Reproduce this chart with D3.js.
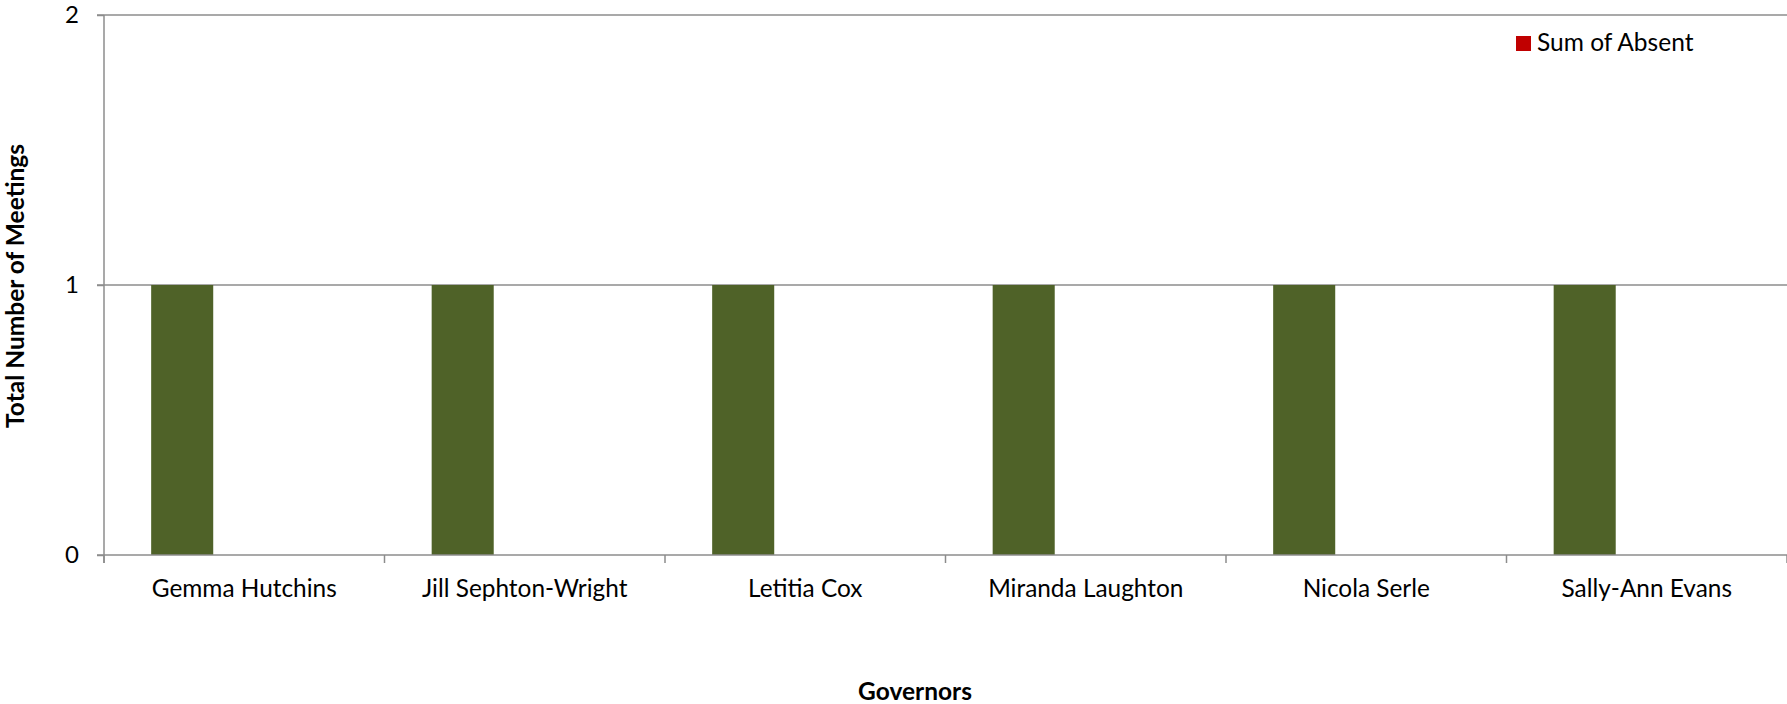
<!DOCTYPE html>
<html>
<head>
<meta charset="utf-8">
<script src="https://cdn.jsdelivr.net/npm/d3@7"></script>
<style>
  html, body { margin: 0; padding: 0; background: #fff; }
  svg { display: block; }
  text { font-family: Lato, "Open Sans", sans-serif; fill: #000; }
</style>
</head>
<body>
<svg id="chart" width="1787" height="704"></svg>
<script>
// ---- data ----
const categories = ["Gemma Hutchins", "Jill Sephton-Wright", "Letitia Cox", "Miranda Laughton", "Nicola Serle", "Sally-Ann Evans"];
const series1Values = [1, 1, 1, 1, 1, 1];
const series2Values = [0, 0, 0, 0, 0, 0];
const absentValues = [0, 0, 0, 0, 0, 0];
const yTicks = [0, 1, 2];
const legendLabel = "Sum of Absent";
const xTitle = "Governors";
const yTitle = "Total Number of Meetings";

// ---- layout ----
const svg = d3.select("#chart");
const plotLeft = 104, plotRight = 1787, plotTop = 15, plotBottom = 555;
const gridColor = "#8c8c8c";
const seriesColors = ["#4f6228", "#1f497d", "#c00000"];
const seriesKeys = ["s1", "s2", "absent"];

const rows = categories.map((c, i) => ({ cat: c, s1: series1Values[i], s2: series2Values[i], absent: absentValues[i] }));

const x = d3.scaleBand().domain(categories).range([plotLeft, plotRight]).paddingInner(0).paddingOuter(0);
const inner = d3.scaleBand().domain(seriesKeys).range([0, x.bandwidth()]).paddingInner(0).paddingOuter(0.76);
const y = d3.scaleLinear().domain([0, 2]).range([plotBottom, plotTop]);

// gridlines (horizontal, incl. ticks to the left)
svg.append("g").selectAll("line").data(yTicks.filter(t => t > 0)).join("line")
  .attr("x1", plotLeft - 7).attr("x2", plotRight)
  .attr("y1", d => y(d)).attr("y2", d => y(d))
  .attr("stroke", gridColor).attr("stroke-width", 1.5);

// bars
const g = svg.append("g");
rows.forEach(r => {
  seriesKeys.forEach((k, j) => {
    if (r[k] > 0) {
      g.append("rect")
        .attr("x", x(r.cat) + inner(k))
        .attr("y", y(r[k]))
        .attr("width", inner.bandwidth())
        .attr("height", y(0) - y(r[k]))
        .attr("fill", seriesColors[j]);
    }
  });
});

// y axis
const yAxis = d3.axisLeft(y).tickValues(yTicks).tickSize(7).tickPadding(18).tickFormat(d3.format("d"));
const ya = svg.append("g").attr("transform", `translate(${plotLeft},0)`).call(yAxis);
ya.select(".domain").remove();
ya.append("line").attr("x1", 0).attr("x2", 0).attr("y1", plotTop).attr("y2", plotBottom + 8)
  .attr("stroke", gridColor).attr("stroke-width", 1.5);
ya.selectAll(".tick line").attr("stroke", gridColor).attr("stroke-width", 1.5);
ya.selectAll(".tick text").attr("font-size", 24).attr("font-family", "Lato").attr("fill", "#000");

// x axis
const xa = svg.append("g").attr("transform", `translate(0,${plotBottom})`);
xa.append("line").attr("x1", plotLeft - 7).attr("x2", plotRight).attr("y1", 0).attr("y2", 0)
  .attr("stroke", gridColor).attr("stroke-width", 1.5);
const boundaries = categories.map(c => x(c)).concat([plotRight]);
xa.selectAll("line.tk").data(boundaries).join("line").attr("class", "tk")
  .attr("x1", d => d).attr("x2", d => d).attr("y1", 0).attr("y2", 8)
  .attr("stroke", gridColor).attr("stroke-width", 1.5);
xa.selectAll("text.lbl").data(categories).join("text").attr("class", "lbl")
  .attr("x", d => x(d) + x.bandwidth() / 2).attr("y", 42)
  .attr("text-anchor", "middle").attr("font-size", 24.4).text(d => d);

// axis titles
svg.append("text").attr("x", 915).attr("y", 700).attr("text-anchor", "middle")
  .attr("font-size", 24.5).attr("font-weight", "bold").text(xTitle);
svg.append("text").attr("transform", "translate(24,286) rotate(-90)").attr("text-anchor", "middle")
  .attr("font-size", 24.5).attr("font-weight", "bold").text(yTitle);

// legend
const lg = svg.append("g").attr("transform", "translate(1516,36)");
lg.append("rect").attr("width", 15).attr("height", 15).attr("fill", seriesColors[2]);
lg.append("text").attr("x", 21).attr("y", 15).attr("font-size", 24.5).text(legendLabel);
</script>
</body>
</html>
